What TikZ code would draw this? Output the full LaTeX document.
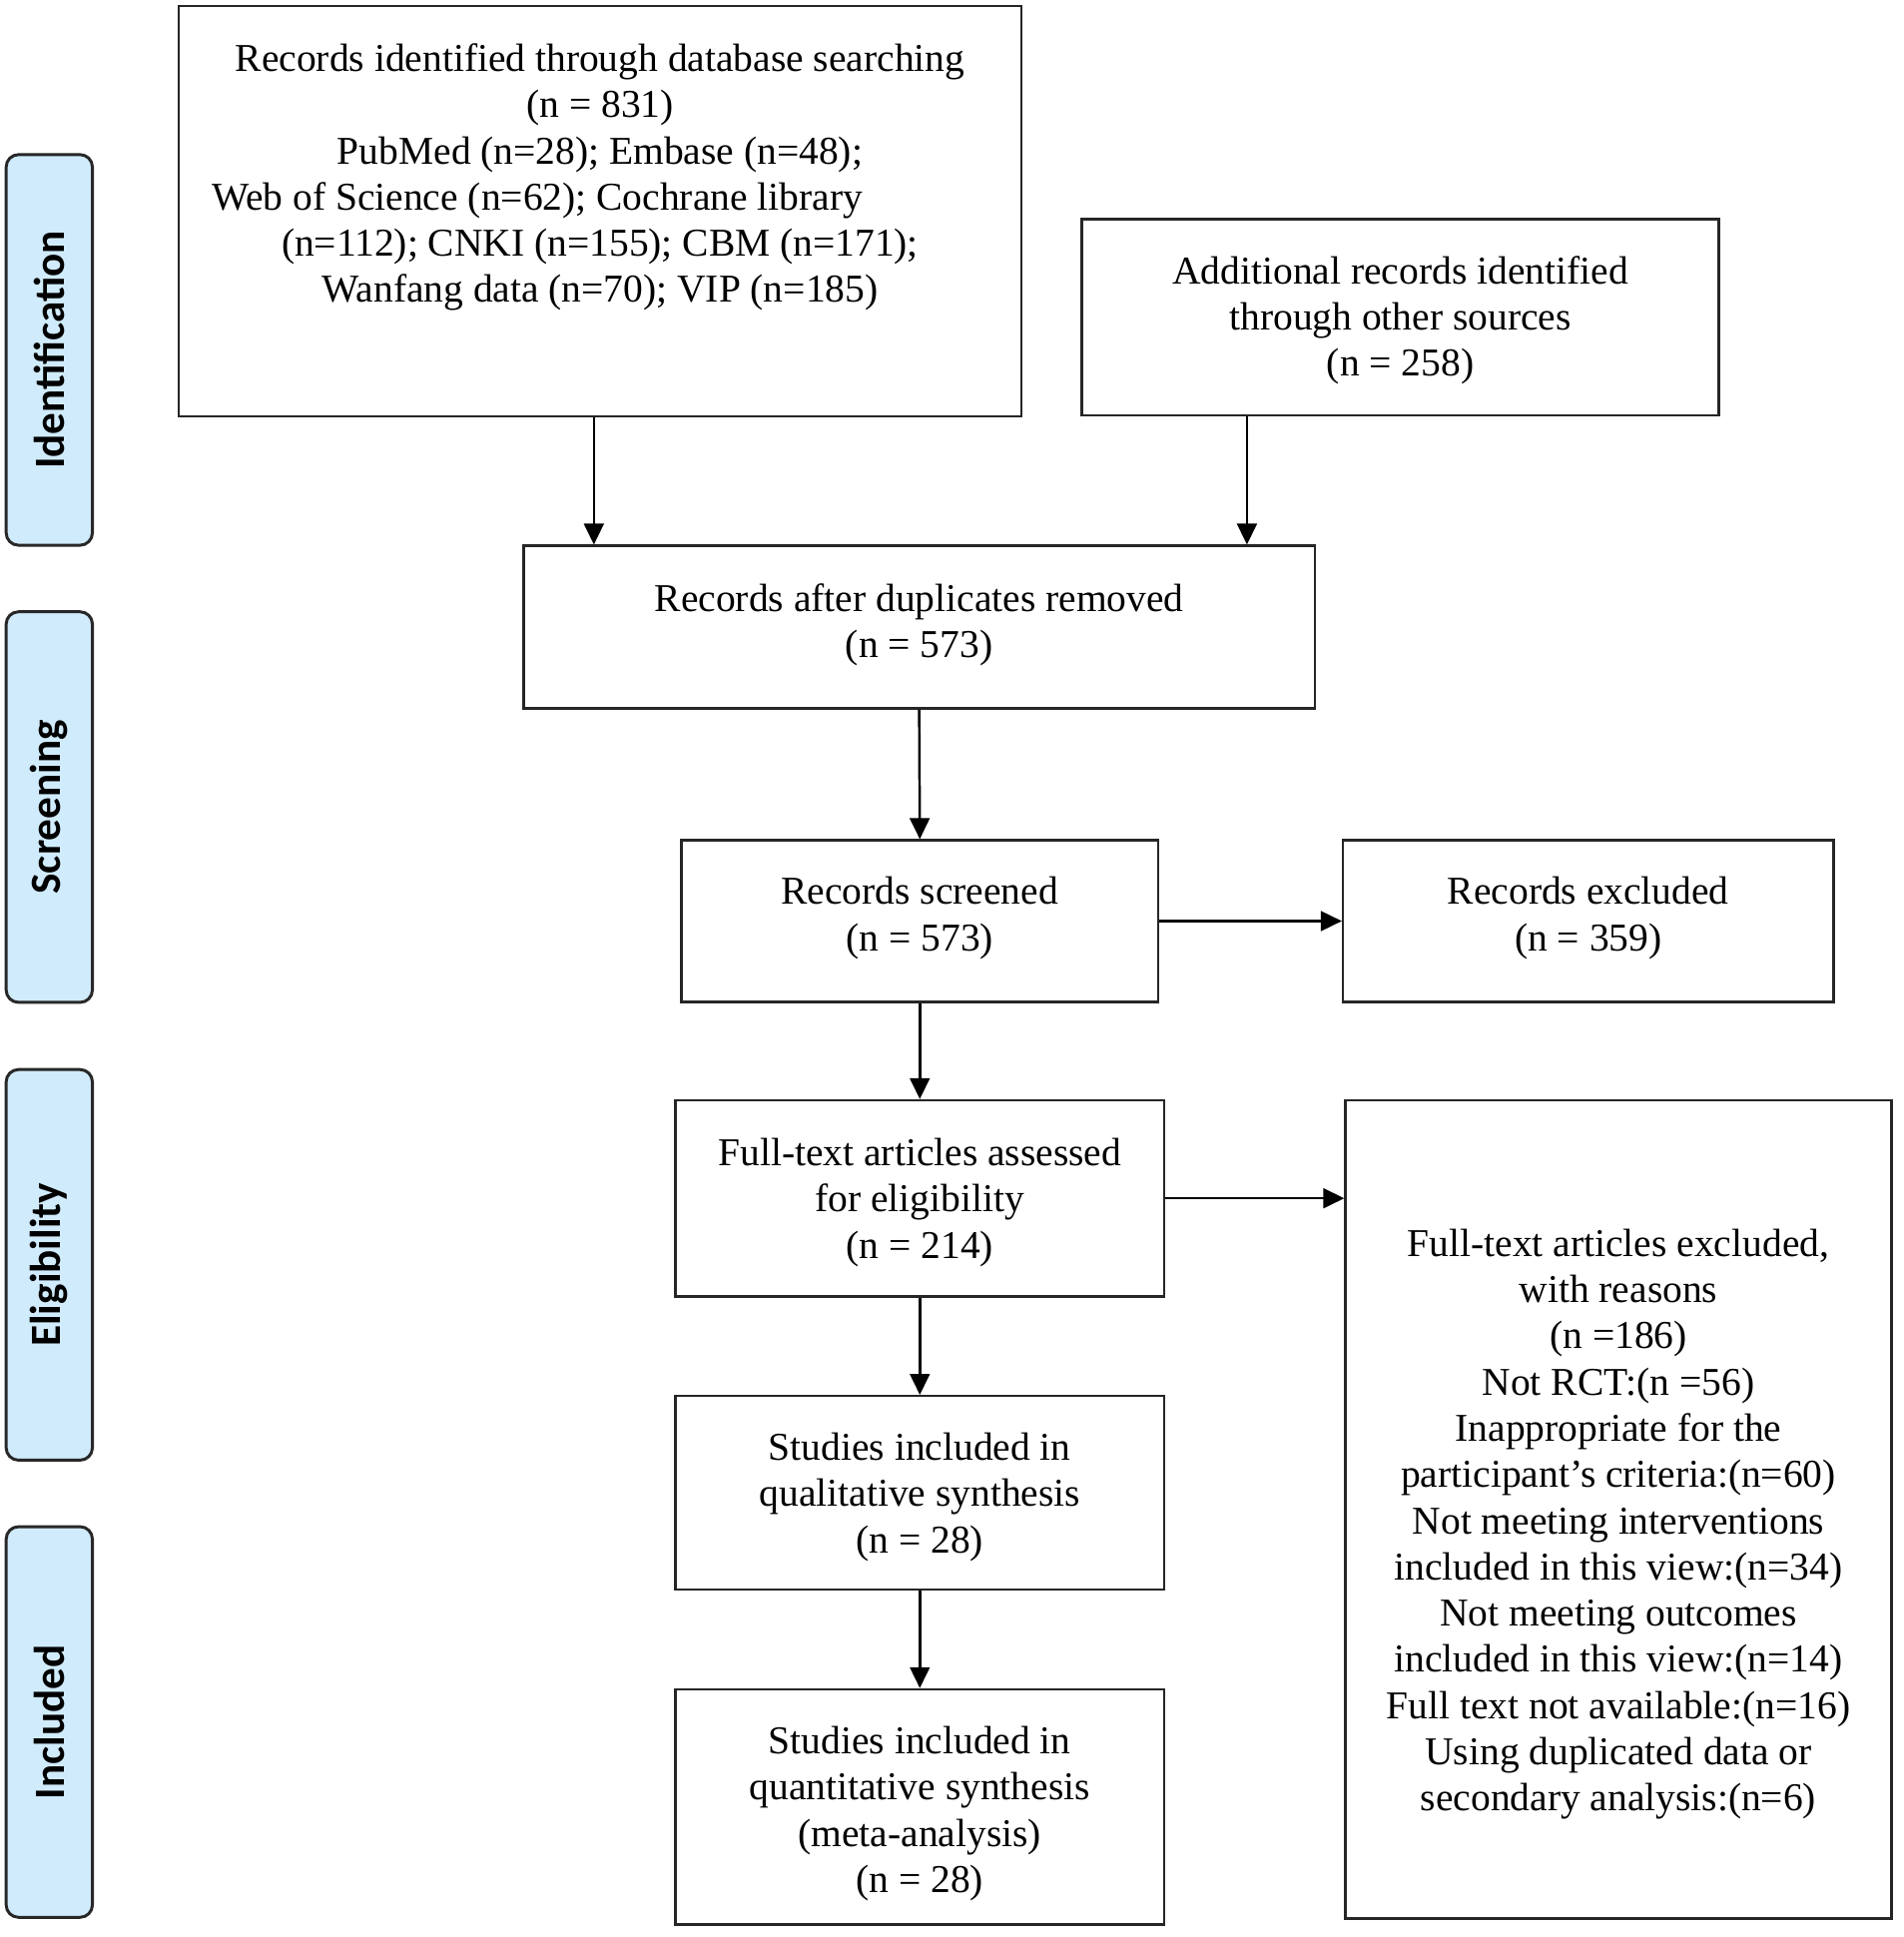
\documentclass[tikz,border=0pt]{standalone}
\usepackage{fontspec}
\setmainfont{Liberation Serif}
\newfontfamily\sidefont{Carlito}
\usetikzlibrary{arrows.meta}
\definecolor{sideblue}{RGB}{208,235,251}
\definecolor{sideedge}{RGB}{40,40,40}
\begin{document}
\begin{tikzpicture}[x=0.5pt,y=-0.5pt,
  boxshape/.style={draw=black!85,line width=1pt,inner sep=0pt},
  boxtext/.style={align=center,font=\fontsize{16}{18.75}\selectfont,inner sep=0pt},
  sidebox/.style={draw=sideedge,fill=sideblue,line width=1.2pt,rounded corners=5pt,inner sep=0pt,
     minimum width=35pt,minimum height=158.5pt},
  sidetext/.style={rotate=90,font=\sidefont\bfseries\fontsize{17.5}{20}\selectfont,inner sep=0pt},
  arr/.style={line width=1pt,-{Triangle[length=8.5pt,width=8pt]}}]
\useasboundingbox (0,0) rectangle (1545,1572);
% side labels
\node[sidebox] (sid) at (40,284) {};
\node[sidetext] (sidt) at (sid.center) {Identification};
\node[sidebox] (sscr) at (40,655) {};
\node[sidetext] (sscrt) at (sscr.center) {Screening};
\node[sidebox] (selg) at (40,1026.5) {};
\node[sidetext] (selgt) at (selg.center) {Eligibility};
\node[sidebox] (sinc) at (40,1397.5) {};
\node[sidetext] (sinct) at (sinc.center) {Included};
% boxes
\node[boxshape,minimum width=342pt,minimum height=166.5pt] (b1) at (487,171.5) {};
\node[boxtext,anchor=north] (b1t) at (487,35) {Records identified through database searching\\
(n = 831)\\
PubMed (n=28); Embase (n=48);\\
Web of Science (n=62); Cochrane library\rule{51pt}{0pt}\\
(n=112); CNKI (n=155); CBM (n=171);\\
Wanfang data (n=70); VIP (n=185)};
\node[boxshape,minimum width=258.5pt,minimum height=79.5pt] (b2) at (1136.5,257.5) {};
\node[boxtext] (b2t) at (1136.5,260) {Additional records identified\\through other sources\\(n = 258)};
\node[boxshape,minimum width=321pt,minimum height=66pt] (b3) at (746,509) {};
\node[boxtext] (b3t) at (746,507) {Records after duplicates removed\\(n = 573)};
\node[boxshape,minimum width=193.5pt,minimum height=65.5pt] (b4) at (746.5,747.5) {};
\node[boxtext] (b4t) at (746.5,745) {Records screened\\(n = 573)};
\node[boxshape,minimum width=199pt,minimum height=65.5pt] (b5) at (1289,747.5) {};
\node[boxtext] (b5t) at (1289,745) {Records excluded\\(n = 359)};
\node[boxshape,minimum width=198.5pt,minimum height=79.5pt] (b6) at (746.5,972.5) {};
\node[boxtext] (b6t) at (746.5,976) {Full-text articles assessed\\for eligibility\\(n = 214)};
\node[boxshape,minimum width=221.5pt,minimum height=332pt] (b7) at (1313.5,1225) {};
\node[boxtext] (b7t) at (1313.5,1237) {Full-text articles excluded,\\with reasons\\(n =186)\\Not RCT:(n =56)\\Inappropriate for the\\participant’s criteria:(n=60)\\Not meeting interventions\\included in this view:(n=34)\\Not meeting outcomes\\included in this view:(n=14)\\Full text not available:(n=16)\\Using duplicated data or\\secondary analysis:(n=6)};
\node[boxshape,minimum width=198.5pt,minimum height=78.5pt] (b8) at (746.5,1211.5) {};
\node[boxtext] (b8t) at (746.5,1215) {Studies included in\\qualitative synthesis\\(n = 28)};
\node[boxshape,minimum width=198.5pt,minimum height=95.5pt] (b9) at (746.5,1466.5) {};
\node[boxtext] (b9t) at (746.5,1472) {Studies included in\\quantitative synthesis\\(meta-analysis)\\(n = 28)};
% arrows
\coordinate (a1) at (482,0);
\coordinate (a2) at (1012,0);
\draw[arr] (b1.south -| a1) -- (b3.north -| a1);
\draw[arr] (b2.south -| a2) -- (b3.north -| a2);
\draw[arr] (b3.south) -- (b4.north);
\draw[arr] (b4.east) -- (b5.west);
\draw[arr] (b4.south) -- (b6.north);
\draw[arr] (b6.east) -- (b7.west |- b6.east);
\draw[arr] (b6.south) -- (b8.north);
\draw[arr] (b8.south) -- (b9.north);
\end{tikzpicture}
\end{document}
